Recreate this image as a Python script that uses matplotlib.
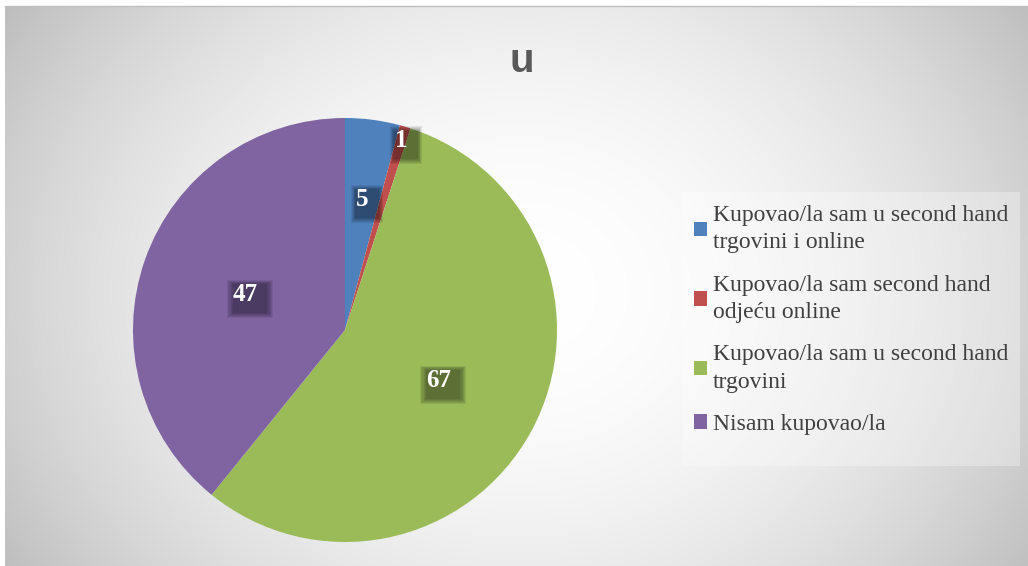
import numpy as np
import matplotlib.pyplot as plt
from matplotlib.patches import Rectangle

labels = ['Kupovao/la sam u second hand\ntrgovini i online',
          'Kupovao/la sam second hand\nodjeću online',
          'Kupovao/la sam u second hand\ntrgovini',
          'Nisam kupovao/la']
values = [5, 1, 67, 47]
colors = ['#4f81bd', '#c0504d', '#9bbb59', '#8064a2']
label_dist = [0.62, 0.93, 0.5, 0.5]

W, H = 1028, 566
R = 212  # pie radius in px
fig = plt.figure(figsize=(W / 100, H / 100), dpi=100)
fig.patch.set_facecolor('white')

# radial gradient chart area
bg = fig.add_axes((5 / W, 0, 1 - 5 / W, (H - 6) / H))
yy, xx = np.mgrid[0:560, 0:1023]
d2 = ((xx - 515) / 600.0) ** 2 + ((yy - 285) / 500.0) ** 2
shade = np.clip(255 - 62 * d2, 185, 255) / 255.0
bg.imshow(np.dstack([shade] * 3), aspect='auto', extent=(0, 1, 0, 1), origin='upper')
bg.axis('off')
fig.add_artist(plt.Line2D([5 / W, 1], [(H - 6) / H] * 2, color='#bfbfbf', lw=1))

fig.text(522 / W, 1 - 61 / H, 'u', ha='center', va='center', fontsize=29,
         fontweight='bold', color='#595959', family='Liberation Sans')

ax = fig.add_axes(((345 - R) / W, (H - 330 - R) / H, 2 * R / W, 2 * R / H))
wedges, _ = ax.pie(values, colors=colors, startangle=90, counterclock=False,
                   wedgeprops=dict(linewidth=0))
ax.set_xlim(-1, 1)
ax.set_ylim(-1, 1)
ax.set_aspect('equal')
ax.axis('off')

for w, v, r in zip(wedges, values, label_dist):
    ang = np.deg2rad((w.theta1 + w.theta2) / 2)
    x, y = r * np.cos(ang), r * np.sin(ang)
    # soft shadow box, shifted right/down
    bw = (14 * len(str(v)) + 18) / R
    bh = 38 / R
    cx, cy = x + 5 / R, y - 4 / R
    for k in range(6):
        s = 1 - k * 0.05
        ax.add_patch(Rectangle((cx - bw * s / 2, cy - bh * s / 2), bw * s, bh * s,
                               fc=(0, 0, 0, 0.08), ec='none'))
    ax.text(x, y, str(v), ha='center', va='center', fontsize=18, fontweight='bold',
            family='Liberation Serif', color='white')

# legend box
fig.add_artist(Rectangle((683 / W, 1 - 466 / H), (1020 - 683) / W, (466 - 192) / H,
                         transform=fig.transFigure, fc=(1, 1, 1, 0.3), ec='none'))
leg = fig.legend(wedges, labels, loc='upper left',
                 bbox_to_anchor=(694 / W, 1 - 205 / H), frameon=False,
                 prop=dict(family='Liberation Serif', size=17),
                 labelcolor='#404040', handlelength=0.55, handleheight=0.55,
                 handletextpad=0.25, labelspacing=0.9, borderpad=0,
                 borderaxespad=0)
for t in leg.get_texts():
    t.set_linespacing(1.4)

fig.savefig('out.png', dpi=100)
